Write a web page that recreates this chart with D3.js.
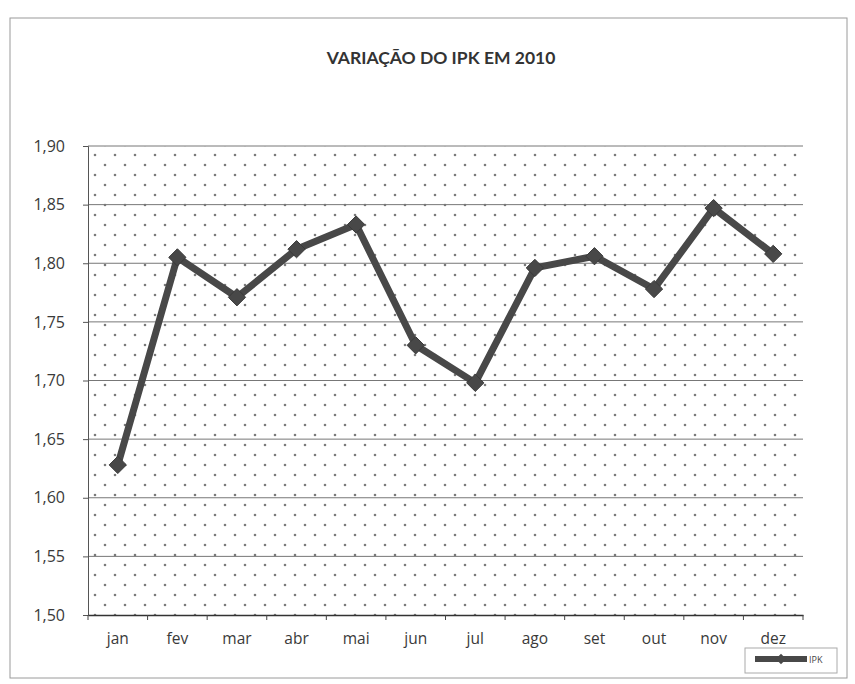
<!DOCTYPE html>
<html>
<head>
<meta charset="utf-8">
<script src="https://cdn.jsdelivr.net/npm/d3@7"></script>
<style>
  body { margin: 0; background: #fff; }
  svg { display: block; }
</style>
</head>
<body>
<div id="chart"></div>
<script>
// dados do gráfico
var meses = ["jan", "fev", "mar", "abr", "mai", "jun", "jul", "ago", "set", "out", "nov", "dez"];
var ipk = [1.628, 1.805, 1.771, 1.812, 1.833, 1.730, 1.698, 1.796, 1.806, 1.778, 1.847, 1.808];
var yTicks = [1.50, 1.55, 1.60, 1.65, 1.70, 1.75, 1.80, 1.85, 1.90];
var titulo = "VARIAÇÃO DO IPK EM 2010";
var serieNome = "IPK";

var W = 855, H = 684;
var plot = { left: 88, right: 803, top: 146, bottom: 615 };
var lineColor = "#484848";

var svg = d3.select("#chart").append("svg")
  .attr("width", W)
  .attr("height", H);

// padrão de pontos do fundo
var defs = svg.append("defs");
var pat = defs.append("pattern")
  .attr("id", "dots")
  .attr("patternUnits", "userSpaceOnUse")
  .attr("width", 20)
  .attr("height", 20);
pat.append("circle").attr("cx", 5).attr("cy", 5).attr("r", 1.3).attr("fill", "#7a7a7a");
pat.append("circle").attr("cx", 15).attr("cy", 15).attr("r", 1.3).attr("fill", "#7a7a7a");

// moldura do gráfico
svg.append("rect")
  .attr("x", 10).attr("y", 18)
  .attr("width", 837).attr("height", 660)
  .attr("fill", "#fff")
  .attr("stroke", "#9a9a9a")
  .attr("stroke-width", 1);

// título
svg.append("text")
  .attr("x", 441)
  .attr("y", 64)
  .attr("text-anchor", "middle")
  .style("font-family", "Lato, 'Open Sans', sans-serif")
  .style("font-weight", "bold")
  .style("font-size", "17.5px")
  .style("fill", "#333")
  .text(titulo);

var x = d3.scaleBand()
  .domain(meses)
  .range([plot.left, plot.right]);

var y = d3.scaleLinear()
  .domain([1.50, 1.90])
  .range([plot.bottom, plot.top]);

// fundo pontilhado
svg.append("rect")
  .attr("x", plot.left).attr("y", plot.top)
  .attr("width", plot.right - plot.left)
  .attr("height", plot.bottom - plot.top)
  .attr("fill", "url(#dots)");

// linhas de grade
svg.append("g")
  .selectAll("line")
  .data(yTicks.slice(1))
  .enter()
  .append("line")
  .attr("x1", plot.left)
  .attr("x2", plot.right)
  .attr("y1", function (d) { return y(d); })
  .attr("y2", function (d) { return y(d); })
  .attr("stroke", "#777")
  .attr("stroke-width", 1);

// eixo y
var fmt = function (d) { return d.toFixed(2).replace(".", ","); };
var yAxis = svg.append("g")
  .attr("transform", "translate(" + plot.left + ",0)")
  .call(d3.axisLeft(y).tickValues(yTicks).tickFormat(fmt).tickSize(5).tickPadding(18));
yAxis.select(".domain").attr("stroke", "#555");
yAxis.selectAll(".tick line").attr("stroke", "#555");
yAxis.selectAll("text")
  .style("font-family", "'Open Sans', sans-serif")
  .style("font-size", "16px")
  .style("fill", "#3a3a3a");

// eixo x
var xAxis = svg.append("g")
  .attr("transform", "translate(0," + plot.bottom + ")")
  .call(d3.axisBottom(x).tickSize(0).tickPadding(18));
xAxis.select(".domain").attr("stroke", "#333").attr("stroke-width", 1.5);
xAxis.selectAll("text")
  .style("font-family", "'Open Sans', sans-serif")
  .style("font-size", "15.5px")
  .style("fill", "#3a3a3a");

// marcas entre as categorias
svg.append("g")
  .selectAll("line")
  .data(meses.concat(["_fim"]))
  .enter()
  .append("line")
  .attr("x1", function (d, i) { return plot.left + i * x.bandwidth(); })
  .attr("x2", function (d, i) { return plot.left + i * x.bandwidth(); })
  .attr("y1", plot.bottom)
  .attr("y2", plot.bottom + 5)
  .attr("stroke", "#444");

// linha da série
var dados = meses.map(function (m, i) { return { mes: m, valor: ipk[i] }; });
var linha = d3.line()
  .x(function (d) { return x(d.mes) + x.bandwidth() / 2; })
  .y(function (d) { return y(d.valor); });

svg.append("path")
  .datum(dados)
  .attr("d", linha)
  .attr("fill", "none")
  .attr("stroke", lineColor)
  .attr("stroke-width", 7)
  .attr("stroke-linejoin", "round");

// marcadores em losango
svg.append("g")
  .selectAll("path")
  .data(dados)
  .enter()
  .append("path")
  .attr("d", d3.symbol().type(d3.symbolDiamond2).size(190))
  .attr("transform", function (d) {
    return "translate(" + (x(d.mes) + x.bandwidth() / 2) + "," + y(d.valor) + ")";
  })
  .attr("fill", lineColor)
  .attr("stroke", "#3a3a3a")
  .attr("stroke-width", 1);

// legenda
var leg = svg.append("g").attr("transform", "translate(745,648)");
leg.append("rect")
  .attr("width", 92).attr("height", 25)
  .attr("fill", "#fff")
  .attr("stroke", "#aaa");
leg.append("line")
  .attr("x1", 10).attr("x2", 62)
  .attr("y1", 11).attr("y2", 11)
  .attr("stroke", lineColor)
  .attr("stroke-width", 6);
leg.append("path")
  .attr("d", d3.symbol().type(d3.symbolDiamond2).size(70))
  .attr("transform", "translate(36,11)")
  .attr("fill", lineColor);
leg.append("text")
  .attr("x", 64).attr("y", 15)
  .style("font-family", "'Open Sans', sans-serif")
  .style("font-size", "9px")
  .style("fill", "#444")
  .text(serieNome);
</script>
</body>
</html>
